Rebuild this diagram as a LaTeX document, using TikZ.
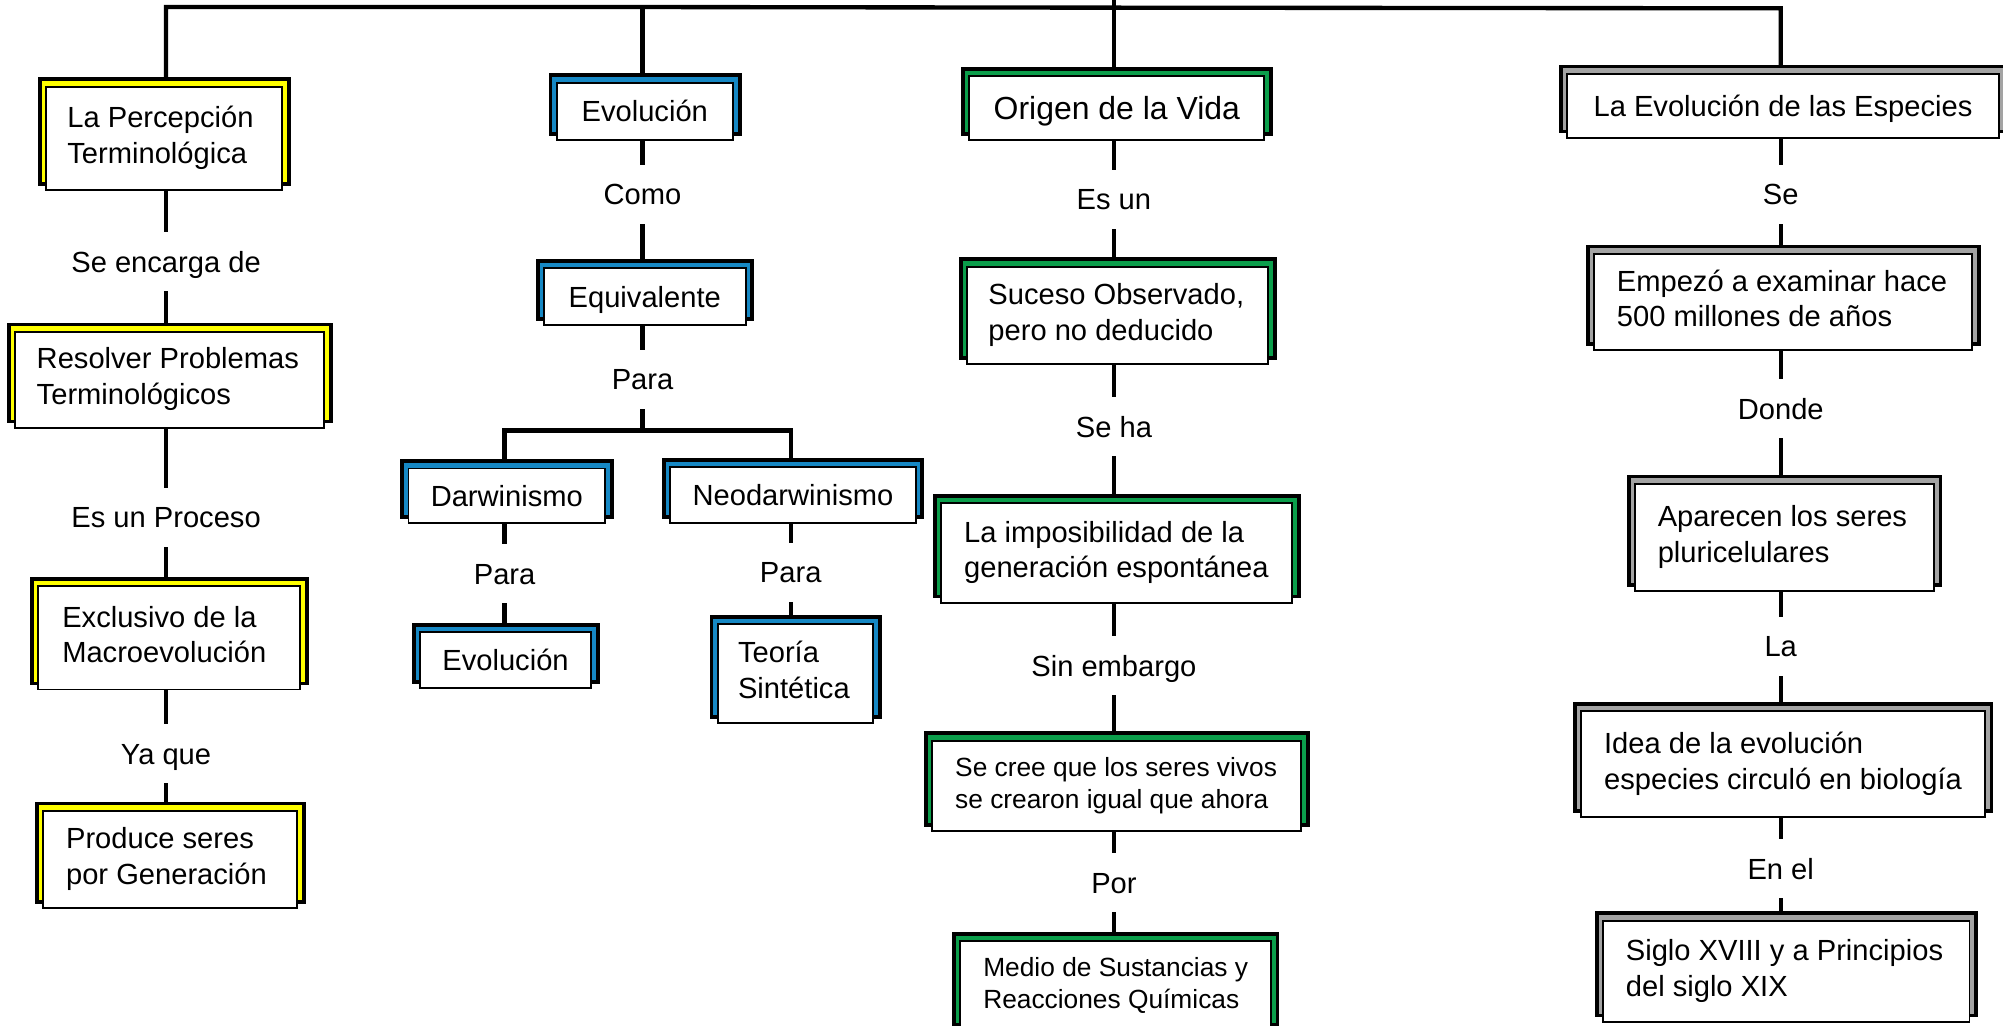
\documentclass[tikz,border=0pt]{standalone}
\usepackage{fontspec}
\setmainfont{Liberation Sans}
\usetikzlibrary{backgrounds}
\definecolor{cyel}{HTML}{FFFF00}
\definecolor{cblu}{HTML}{1688C4}
\definecolor{cgrn}{HTML}{0B9E4B}
\definecolor{cgry}{HTML}{A3A3A3}
\newcommand\fA{\fontsize{22.8}{28}\selectfont}
\newcommand\fB{\fontsize{20.6}{25.5}\selectfont}
\newcommand\fC{\fontsize{25}{30}\selectfont}
\tikzset{
 conn/.style={draw=black, line width=3.4pt},
 backbox/.style={draw=black, line width=3pt},
 frontbox/.style={draw=black, line width=1.5pt, fill=white, rectangle, inner sep=0pt},
 lbl/.style={fill=white, inner xsep=4pt, inner ysep=0pt, minimum height=46pt, text height=16.4pt, text depth=0pt, font=\fA},
 tA/.style={font=\fA, text height=16.4pt, text depth=0pt},
 tC/.style={font=\fC, text height=18pt, text depth=0pt},
 fa/.style={font=\fA},
 fb/.style={font=\fB},
}
% name, colour, x1, y1, x2, y2, left pad, font style, lines
\newcommand\cmboxL[9]{%
 \draw[backbox, fill=#2] ({#3-4},{#4-5}) rectangle ({#5+6},{#6-4});
 \pgfmathsetmacro\cmw{#5-#3}\pgfmathsetmacro\cmh{#6-#4}%
 \node[frontbox, minimum width=\cmw pt, minimum height=\cmh pt, anchor=north west, #8] (#1) at (#3,#4)
   {\makebox[\cmw pt][l]{\hspace*{#7pt}\begin{tabular}{@{}l@{}}#9\end{tabular}}};
}
% name, colour, x1, y1, x2, y2, text style, text
\newcommand\cmboxC[8]{%
 \draw[backbox, fill=#2] ({#3-4},{#4-5}) rectangle ({#5+6},{#6-4});
 \pgfmathsetmacro\cmw{#5-#3}\pgfmathsetmacro\cmh{#6-#4}%
 \node[frontbox, minimum width=\cmw pt, minimum height=\cmh pt, anchor=north west, #7] (#1) at (#3,#4) {#8};
}
\begin{document}
\begin{tikzpicture}[x=1pt,y=-1pt]
\useasboundingbox (0,0) rectangle (1568,803);
% column 1
\cmboxL{P1}{cyel}{35}{67}{220}{148}{17}{fa}{La Percepción\\Terminológica}
\cmboxL{P2}{cyel}{11}{259}{253}{334}{17}{fa}{Resolver Problemas\\Terminológicos}
\cmboxL{P3}{cyel}{29}{458}{234}{539}{19}{fa}{Exclusivo de la\\Macroevolución}
\cmboxL{P4}{cyel}{33}{634}{232}{710}{18}{fa}{Produce seres\\por Generación}
% column 2
\cmboxC{E1}{cblu}{435}{64}{573}{109}{tA}{Evolución}
\cmboxC{E2}{cblu}{425}{209}{583}{254}{tA}{Equivalente}
\cmboxC{Dw}{cblu}{319}{366}{473}{409}{tA}{Darwinismo}
\cmboxC{Nd}{cblu}{524}{365}{716}{409}{tA}{Neodarwinismo}
\cmboxC{E3}{cblu}{328}{494}{462}{538}{tA}{Evolución}
\cmboxL{Ts}{cblu}{561}{488}{683}{565}{16}{fa}{Teoría\\Sintética}
% column 3
\cmboxC{O1}{cgrn}{758}{59}{989}{109}{tC}{Origen de la Vida}
\cmboxL{O2}{cgrn}{756}{208}{992}{284}{17}{fa}{Suceso Observado,\\pero no deducido}
\cmboxL{O3}{cgrn}{736}{393}{1011}{471}{18}{fa}{La imposibilidad de la\\generación espontánea}
\cmboxL{O4}{cgrn}{729}{579}{1018}{650}{18}{fb}{Se cree que los seres vivos\\se crearon igual que ahora}
\cmboxL{O5}{cgrn}{751}{736}{994}{806}{18}{fb}{Medio de Sustancias y\\Reacciones Químicas}
% column 4
\cmboxC{S1}{cgry}{1226}{57}{1564}{107}{tA}{La Evolución de las Especies}
\cmboxL{S2}{cgry}{1247}{198}{1543}{273}{18}{fa}{Empezó a examinar hace\\500 millones de años}
\cmboxL{S3}{cgry}{1279}{378}{1513}{462}{18}{fa}{Aparecen los seres\\pluricelulares}
\cmboxL{S4}{cgry}{1237}{556}{1553}{639}{18}{fa}{Idea de la evolución\\especies circuló en biología}
\cmboxL{S5}{cgry}{1254}{720}{1541}{799}{18}{fa}{Siglo XVIII y a Principios\\del siglo XIX}
% labels
\node[lbl] (l11) at (130,205) {Se encarga de};
\node[lbl] (l12) at (130,405) {Es un Proceso};
\node[lbl] (l13) at (130,590) {Ya que};
\node[lbl] (l21) at (503,152) {Como};
\node[lbl] (l22) at (503,297) {Para};
\node[lbl] (l23) at (395,449) {Para};
\node[lbl] (l24) at (619,448) {Para};
\node[lbl] (l31) at (872,156) {Es un};
\node[lbl] (l32) at (872,334) {Se ha};
\node[lbl] (l33) at (872,521) {Sin embargo};
\node[lbl] (l34) at (872,691) {Por};
\node[lbl] (l41) at (1394,152) {Se};
\node[lbl] (l42) at (1394,320) {Donde};
\node[lbl] (l43) at (1394,506) {La};
\node[lbl] (l44) at (1394,680) {En el};
% junction points
\coordinate (t0) at (872,0);
\coordinate (t1) at (130,5.5);
\coordinate (t2) at (503,5.5);
\coordinate (t3) at (872,6);
\coordinate (t4) at (1394,6.5);
\coordinate (br) at (503,337);
\coordinate (dl) at (395,337);
\coordinate (dr) at (619,337);
\begin{scope}[on background layer]
\draw[conn] (P1.north -| t1) -- (t1) -- (t2) -- (t3) -- (t4) -- (S1.north -| t4);
\draw[conn] (t2) -- (E1.north -| t2);
\draw[conn] (t0) -- (O1.north -| t0);
\draw[conn] (P1.south -| l11) -- (P2.north -| l11);
\draw[conn] (P2.south -| l12) -- (P3.north -| l12);
\draw[conn] (P3.south -| l13) -- (P4.north -| l13);
\draw[conn] (E1.south -| l21) -- (E2.north -| l21);
\draw[conn] (E2.south -| l22) -- (br);
\draw[conn] (Dw.north -| dl) -- (dl) -- (dr) -- (Nd.north -| dr);
\draw[conn] (Dw.south -| l23) -- (E3.north -| l23);
\draw[conn] (Nd.south -| l24) -- (Ts.north -| l24);
\draw[conn] (O1.south -| l31) -- (O2.north -| l31);
\draw[conn] (O2.south -| l32) -- (O3.north -| l32);
\draw[conn] (O3.south -| l33) -- (O4.north -| l33);
\draw[conn] (O4.south -| l34) -- (O5.north -| l34);
\draw[conn] (S1.south -| l41) -- (S2.north -| l41);
\draw[conn] (S2.south -| l42) -- (S3.north -| l42);
\draw[conn] (S3.south -| l43) -- (S4.north -| l43);
\draw[conn] (S4.south -| l44) -- (S5.north -| l44);
\end{scope}
\end{tikzpicture}
\end{document}
